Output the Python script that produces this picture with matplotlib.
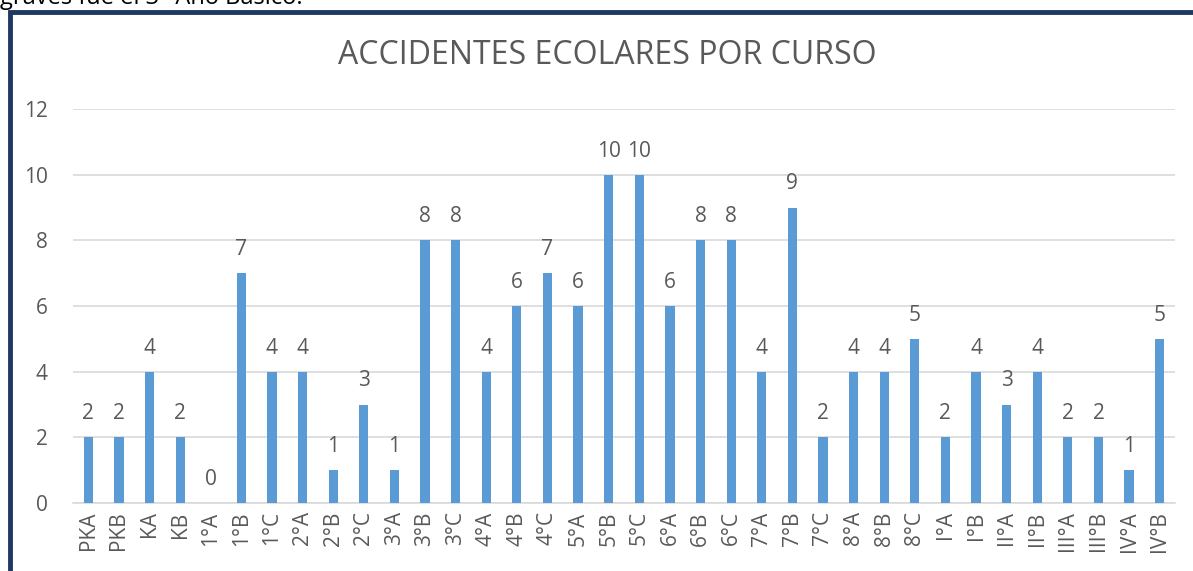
import matplotlib
matplotlib.use("Agg")
import matplotlib.pyplot as plt
from matplotlib.patches import Rectangle

# Datos del grafico
cursos = ['PKA', 'PKB', 'KA', 'KB', '1°A', '1°B', '1°C', '2°A', '2°B', '2°C',
          '3°A', '3°B', '3°C', '4°A', '4°B', '4°C', '5°A', '5°B', '5°C', '6°A',
          '6°B', '6°C', '7°A', '7°B', '7°C', '8°A', '8°B', '8°C', 'I°A', 'I°B',
          'II°A', 'II°B', 'III°A', 'III°B', 'IV°A', 'IV°B']
accidentes = [2, 2, 4, 2, 0, 7, 4, 4, 1, 3,
              1, 8, 8, 4, 6, 7, 6, 10, 10, 6,
              8, 8, 4, 9, 2, 4, 4, 5, 2, 4,
              3, 4, 2, 2, 1, 5]
y_ticks = [0, 2, 4, 6, 8, 10, 12]

gris = '#595959'
plt.rcParams['font.family'] = ['Open Sans', 'DejaVu Sans']

fig = plt.figure(figsize=(11.93, 5.71), dpi=100)
ax = fig.add_axes([73 / 1193, 68 / 571, (1175 - 73) / 1193, (503 - 109) / 571])

x = list(range(len(cursos)))
ax.bar(x, accidentes, width=0.3, color='#5B9BD5', zorder=3)

# Etiquetas de datos
for xi, v in zip(x, accidentes):
    ax.text(xi, v + 0.4, str(v), ha='center', va='bottom', fontsize=15, color=gris)

ax.set_xlim(-0.5, len(cursos) - 0.5)
ax.set_ylim(0, 12)
ax.set_yticks(y_ticks)
ax.set_xticks(x)
ax.set_xticklabels(cursos, rotation=90, fontsize=15, color=gris)
ax.tick_params(axis='y', labelsize=15, labelcolor=gris, length=0, pad=18)
ax.tick_params(axis='x', length=0, pad=6)
ax.grid(axis='y', color='#D9D9D9', linewidth=1.2, zorder=0)
for s in ['top', 'right', 'left']:
    ax.spines[s].set_visible(False)
ax.spines['bottom'].set_color('#D9D9D9')
ax.spines['bottom'].set_linewidth(1.2)

fig.text(607 / 1193, 1 - 55 / 571, 'ACCIDENTES ECOLARES POR CURSO', ha='center',
         va='center', fontsize=23, color=gris)

# Texto cortado del documento
fig.text(0.0, 1 - 4 / 571, 'graves fue el 3° Año Básico.', ha='left', va='baseline',
         fontsize=17, color='black')

# Borde del grafico
fig.patches.append(Rectangle((10 / 1193, -0.05), 1.1, 1 - 12 / 571 + 0.05,
                             transform=fig.transFigure, fill=False,
                             edgecolor='#1F3864', linewidth=3.5))

fig.savefig('out.png', dpi=100)
